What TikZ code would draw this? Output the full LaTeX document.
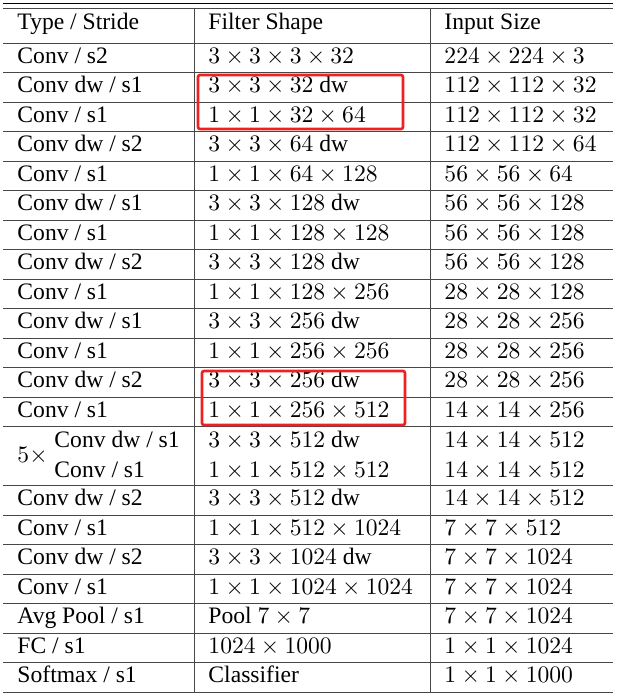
\documentclass[tikz,border=0pt]{standalone}
\usepackage[no-math]{fontspec}
\setmainfont{Liberation Serif}
\definecolor{boxred}{RGB}{238,32,32}
\tikzset{
  cell/.style={anchor=base west, inner sep=0pt, font=\fontsize{10}{12}\selectfont, scale=2.36, transform shape},
  rulethin/.style={line width=1pt, draw=black!72},
  ruletop/.style={line width=1.1pt, draw=black},
  hlbox/.style={draw=boxred, line width=2.6pt, rounded corners=2pt}
}
\newcommand\tabrow[4]{%
  \pgfmathsetmacro\yb{43+29.5*#1+20}%
  \node[cell] (a#1) at (17,\yb) {#2};
  \node[cell] (b#1) at (208,\yb) {#3};
  \node[cell] (c#1) at (444,\yb) {#4};
}
\newcommand\blockrow[4]{%
  \pgfmathsetmacro\yb{43+29.5*#1+21}%
  \node[cell] (a#1) at (54,\yb) {#2};
  \node[cell] (b#1) at (208,\yb) {#3};
  \node[cell] (c#1) at (444,\yb) {#4};
}
\begin{document}
\begin{tikzpicture}[x=1pt,y=-1pt]
\useasboundingbox (0,0) rectangle (623,697);
% rules
\draw[ruletop] (3,3.5) -- (613,3.5);
\draw[rulethin] (3,8.5) -- (613,8.5);
\foreach \k in {0,...,13,15,16,...,22} {
  \draw[rulethin] (3,43+29.5*\k) -- (613,43+29.5*\k);
}
\draw[rulethin] (194,8.5) -- (194,692);
\draw[rulethin] (430,8.5) -- (430,692);
% header
\node[cell] (h1) at (17,29) {Type / Stride};
\node[cell] (h2) at (208,29) {Filter Shape};
\node[cell] (h3) at (444,29) {Input Size};
% rows
\tabrow{0}{Conv / s2}{$3\times3\times3\times32$}{$224\times224\times3$}
\tabrow{1}{Conv dw / s1}{$3\times3\times32$ dw}{$112\times112\times32$}
\tabrow{2}{Conv / s1}{$1\times1\times32\times64$}{$112\times112\times32$}
\tabrow{3}{Conv dw / s2}{$3\times3\times64$ dw}{$112\times112\times64$}
\tabrow{4}{Conv / s1}{$1\times1\times64\times128$}{$56\times56\times64$}
\tabrow{5}{Conv dw / s1}{$3\times3\times128$ dw}{$56\times56\times128$}
\tabrow{6}{Conv / s1}{$1\times1\times128\times128$}{$56\times56\times128$}
\tabrow{7}{Conv dw / s2}{$3\times3\times128$ dw}{$56\times56\times128$}
\tabrow{8}{Conv / s1}{$1\times1\times128\times256$}{$28\times28\times128$}
\tabrow{9}{Conv dw / s1}{$3\times3\times256$ dw}{$28\times28\times256$}
\tabrow{10}{Conv / s1}{$1\times1\times256\times256$}{$28\times28\times256$}
\tabrow{11}{Conv dw / s2}{$3\times3\times256$ dw}{$28\times28\times256$}
\tabrow{12}{Conv / s1}{$1\times1\times256\times512$}{$14\times14\times256$}
\node[cell] (five) at (17,462) {$5\times$};
\blockrow{13}{Conv dw / s1}{$3\times3\times512$ dw}{$14\times14\times512$}
\blockrow{14}{Conv / s1}{$1\times1\times512\times512$}{$14\times14\times512$}
\tabrow{15}{Conv dw / s2}{$3\times3\times512$ dw}{$14\times14\times512$}
\tabrow{16}{Conv / s1}{$1\times1\times512\times1024$}{$7\times7\times512$}
\tabrow{17}{Conv dw / s2}{$3\times3\times1024$ dw}{$7\times7\times1024$}
\tabrow{18}{Conv / s1}{$1\times1\times1024\times1024$}{$7\times7\times1024$}
\tabrow{19}{Avg Pool / s1}{Pool $7\times7$}{$7\times7\times1024$}
\tabrow{20}{FC / s1}{$1024\times1000$}{$1\times1\times1024$}
\tabrow{21}{Softmax / s1}{Classifier}{$1\times1\times1000$}
% highlight boxes
\draw[hlbox] (198,75) rectangle (403,129);
\draw[hlbox] (202,371) rectangle (405,425);
\end{tikzpicture}
\end{document}
